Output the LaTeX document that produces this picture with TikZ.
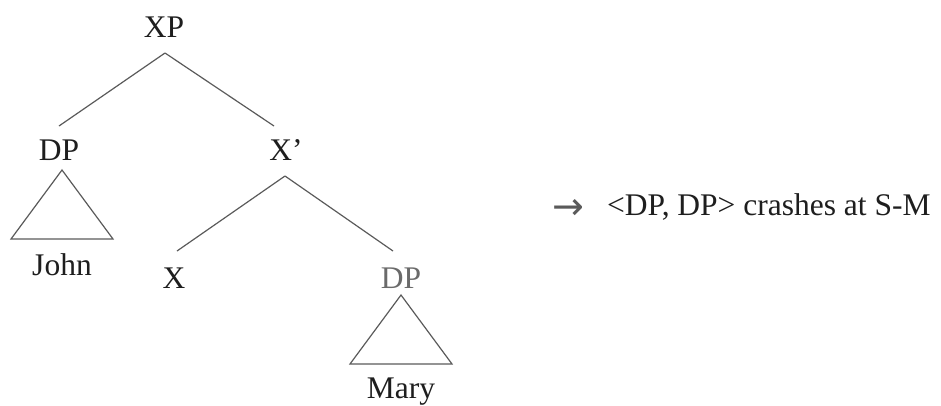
\documentclass[tikz,border=0pt]{standalone}
\usepackage{fontspec}
\setmainfont{Liberation Serif}
\newfontfamily\symfont{DejaVu Sans}
\usetikzlibrary{calc}
\definecolor{edge}{HTML}{5A5A5A}
\definecolor{ink}{HTML}{1E1E1E}
\definecolor{faded}{HTML}{6A6A6A}
\begin{document}
\begin{tikzpicture}[x=1pt,y=-1pt,
  lbl/.style={anchor=base,inner sep=0pt,text=ink,font=\fontsize{31.5}{37}\selectfont},
  branch/.style={draw=edge,line width=1.2pt},
  tri/.style={draw=edge,line width=1.2pt,line join=miter}]
\useasboundingbox (0,0) rectangle (941,405);
% labels of the tree
\node[lbl] (xp)   at (164,37)  {XP};
\node[lbl] (dpj)  at (59,160)  {DP};
\node[lbl] (xbar) at (286,160) {X’};
\node[lbl] (john) at (62,275)  {John};
\node[lbl] (x)    at (174,288) {X};
\node[lbl,text=faded] (dpm) at (401,288) {DP};
\node[lbl] (mary) at (401,398) {Mary};
% branch points
\coordinate (xpfoot)   at ($(xp.base)+(1,16)$);
\coordinate (xbarfoot) at ($(xbar.base)+(-1,16)$);
% branches
\draw[branch] (xpfoot) -- ($(dpj.base)+(0,-34)$);
\draw[branch] (xpfoot) -- ($(xbar.base)+(-12,-34)$);
\draw[branch] (xbarfoot) -- ($(x.base)+(3,-37)$);
\draw[branch] (xbarfoot) -- ($(dpm.base)+(-8,-37)$);
% roof triangles
\draw[tri] ($(dpj.base)+(3,10)$) -- ($(john.base)+(51,-36)$) -- ($(john.base)+(-51,-36)$) -- cycle;
\draw[tri] ($(dpm.base)+(0,7)$) -- ($(mary.base)+(51,-34)$) -- ($(mary.base)+(-51,-34)$) -- cycle;
% annotation
\node[lbl,anchor=base,text=edge,font=\symfont\fontsize{38}{40}\selectfont] (arr) at (568,219) {→};
\node[lbl,anchor=base west] (note) at (607,215) {<DP, DP> crashes at S-M};
\end{tikzpicture}
\end{document}
